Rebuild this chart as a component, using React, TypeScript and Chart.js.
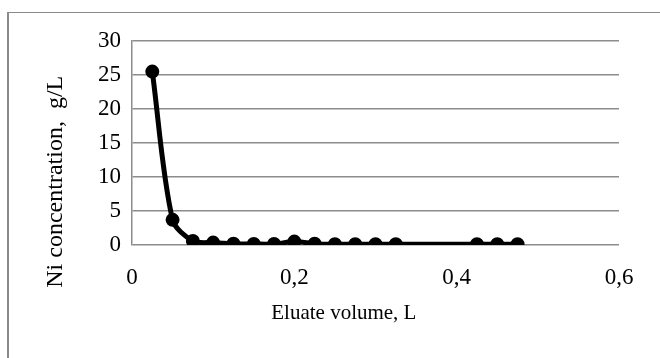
import React, { useEffect, useRef } from "react";
import { Chart, registerables } from "chart.js";

Chart.register(...registerables);

const volumes = [0.025, 0.05, 0.075, 0.1, 0.125, 0.15, 0.175, 0.2, 0.225, 0.25, 0.275, 0.3, 0.325, 0.425, 0.45, 0.475];
const concentrations = [25.5, 3.7, 0.6, 0.35, 0.2, 0.15, 0.15, 0.5, 0.2, 0.1, 0.1, 0.1, 0.1, 0.1, 0.1, 0.1];
const xTicks = [0, 0.2, 0.4, 0.6];
const yTicks = [0, 5, 10, 15, 20, 25, 30];
const xTitle = "Eluate volume, L";
const yTitle = "Ni concentration,  g/L";

const FONT = "'Liberation Serif', 'Times New Roman', serif";

const axisTitles = {
  id: "axisTitles",
  afterDraw(chart: any) {
    const ctx = chart.ctx;
    const area = chart.chartArea;
    ctx.save();
    ctx.fillStyle = "#000";
    ctx.textAlign = "center";
    ctx.textBaseline = "middle";
    ctx.font = `21px ${FONT}`;
    ctx.fillText(xTitle, area.left + (area.right - area.left) * 0.435, area.bottom + 68);
    ctx.translate(56, area.top + (area.bottom - area.top) * 0.69);
    ctx.rotate(-Math.PI / 2);
    ctx.font = `24px ${FONT}`;
    ctx.fillText(yTitle, 0, 0);
    ctx.restore();
  },
};

export default function App() {
  const ref = useRef<HTMLCanvasElement | null>(null);
  useEffect(() => {
    if (!ref.current) return;
    const chart = new Chart(ref.current, {
      type: "line",
      data: {
        datasets: [
          {
            data: volumes.map((v, i) => ({ x: v, y: concentrations[i] })),
            borderColor: "#000",
            backgroundColor: "#000",
            borderWidth: 5,
            pointRadius: 4.5,
            pointBackgroundColor: "#000",
            pointBorderColor: "#000",
            tension: 0.3,
          },
        ],
      },
      options: {
        animation: false,
        responsive: false,
        maintainAspectRatio: false,
        layout: { padding: { left: 0, right: 41, top: 41, bottom: 20 } },
        plugins: { legend: { display: false }, tooltip: { enabled: false } },
        scales: {
          x: {
            type: "linear",
            min: 0,
            max: 0.6,
            afterBuildTicks: (s: any) => {
              s.ticks = xTicks.map((v) => ({ value: v }));
            },
            afterFit: (s: any) => {
              s.height = 358 - 20 - 245;
            },
            grid: { display: false, drawTicks: false },
            border: { display: false },
            ticks: {
              color: "#000",
              padding: 19,
              font: { family: FONT, size: 23 },
              callback: (v: any) => String(v).replace(".", ","),
            },
          },
          y: {
            type: "linear",
            min: 0,
            max: 30,
            afterBuildTicks: (s: any) => {
              s.ticks = yTicks.map((v) => ({ value: v }));
            },
            afterFit: (s: any) => {
              s.width = 132;
            },
            grid: { color: "#8c8c8c", lineWidth: 1.5, drawTicks: false },
            border: { display: true, color: "#8c8c8c", width: 1.5 },
            ticks: {
              color: "#000",
              padding: 11,
              font: { family: FONT, size: 23 },
            },
          },
        },
      },
      plugins: [axisTitles],
    });
    return () => chart.destroy();
  }, []);
  return (
    <div style={{ position: "absolute", left: 0, top: 0, width: 660, height: 358, background: "#fff", overflow: "hidden" }}>
      <div
        style={{
          position: "absolute",
          left: 7,
          top: 12,
          width: 700,
          height: 400,
          borderLeft: "2px solid #8a8a8a",
          borderTop: "1px solid #8a8a8a",
        }}
      />
      <canvas ref={ref} width={660} height={358} style={{ position: "absolute", left: 0, top: 0 }} />
    </div>
  );
}
